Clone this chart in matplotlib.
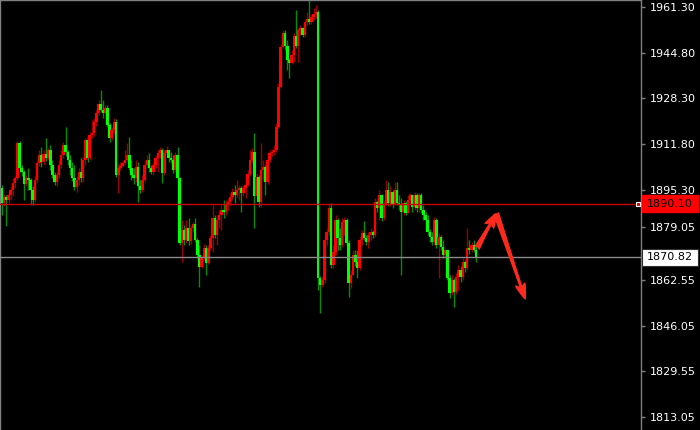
import matplotlib
matplotlib.use("Agg")
import matplotlib.pyplot as plt
import matplotlib.transforms as mtransforms
from matplotlib.patches import FancyArrowPatch, Rectangle
import numpy as np

# ---------------- data ----------------
first_open = 1895.9

closes = [
    # part 1
    1890.4, 1892.6, 1891.5, 1893.4, 1895.2, 1897.7, 1899.5, 1912.2, 1903.1, 1901.7,
    1897.4, 1899.5, 1898.8, 1895.2, 1891.5, 1898.8, 1904.9, 1907.8, 1905.3, 1908.2,
    1906.7, 1909.6, 1904.2, 1900.6, 1898.1, 1900.6, 1904.2, 1907.8, 1911.4, 1908.9,
    1906.0, 1903.1, 1899.5, 1896.3, 1898.8, 1901.7,
    # part 2
    1899.5, 1906.0, 1913.3, 1906.7, 1915.1, 1915.8, 1919.8, 1923.0, 1926.3, 1924.1,
    1923.0, 1924.8, 1918.7, 1914.0, 1916.9, 1919.8, 1900.6, 1903.1, 1903.8, 1904.9,
    1906.0, 1907.8, 1903.1, 1900.6, 1899.5, 1903.5, 1896.6, 1895.2, 1898.8, 1904.2,
    1906.0, 1903.1, 1901.7, 1904.2, 1906.7, 1908.6,
    # part 3
    1909.6, 1901.3, 1908.6, 1909.6, 1906.7, 1906.0, 1902.4, 1907.8, 1899.5, 1876.0,
    1880.7, 1877.1, 1881.4, 1876.7, 1881.4, 1882.9, 1877.1, 1871.6, 1867.3, 1870.5,
    1874.2, 1868.7, 1874.2, 1877.8, 1885.0, 1878.9, 1884.3, 1886.1, 1887.9, 1887.2,
    1889.7, 1890.8, 1892.6, 1894.4, 1893.4, 1895.2,
    # part 4
    1895.9, 1894.1, 1895.9, 1897.0, 1901.0, 1906.0, 1908.9, 1893.0, 1899.9, 1890.8,
    1902.4, 1903.5, 1898.1, 1906.0, 1908.6, 1908.9, 1909.6, 1918.0, 1932.4, 1946.9,
    1952.0, 1947.3, 1942.2, 1941.1, 1944.0, 1950.9, 1947.3, 1953.1, 1953.8, 1951.3,
    1956.0, 1957.1, 1956.0, 1957.8, 1958.9, 1959.6,
    # the big drop
    1863.3,
    # part 5
    1860.8, 1862.6, 1877.1, 1880.0, 1888.6, 1868.0, 1872.7, 1884.3, 1877.8, 1875.2,
    1883.6, 1884.3, 1876.0, 1861.5, 1864.4, 1871.6, 1869.1, 1866.9, 1877.1, 1879.6,
    1877.8, 1876.3, 1878.9, 1880.0, 1878.9, 1890.8, 1888.6, 1893.4, 1885.0, 1889.7,
    1895.2, 1890.4, 1894.4, 1889.7, 1895.2, 1890.4,
    # part 6
    1889.7, 1887.2, 1890.4, 1886.8, 1891.5, 1893.4, 1889.0, 1893.4, 1888.6, 1893.4,
    1887.9, 1886.1, 1884.3, 1880.0, 1878.1, 1876.3, 1884.3, 1875.2, 1878.1, 1874.5,
    1871.6, 1873.4, 1863.3, 1857.9, 1862.6, 1858.2, 1863.7, 1866.2, 1863.7, 1869.1,
    1866.9, 1874.2, 1873.4, 1875.2, 1873.4, 1870.5,
]

highs = [
    1897.0, 1893.7, 1893.4, 1894.4, 1896.6, 1899.5, 1900.6, 1912.9, 1912.9, 1904.2,
    1902.4, 1900.6, 1903.1, 1899.5, 1896.6, 1900.6, 1906.0, 1909.6, 1910.7, 1909.6,
    1914.0, 1910.4, 1911.4, 1906.0, 1901.7, 1901.7, 1906.0, 1909.6, 1912.5, 1918.0,
    1909.6, 1907.8, 1905.3, 1904.2, 1900.2, 1903.1,
    1906.7, 1907.5, 1914.0, 1914.7, 1916.2, 1920.5, 1921.2, 1924.1, 1927.7, 1931.4,
    1927.7, 1925.9, 1925.9, 1919.5, 1918.0, 1921.2, 1921.0, 1904.6, 1905.3, 1906.0,
    1909.6, 1912.2, 1914.4, 1906.0, 1903.1, 1906.0, 1905.3, 1898.8, 1900.6, 1906.0,
    1907.8, 1908.6, 1904.2, 1905.3, 1907.8, 1909.6,
    1910.7, 1910.4, 1909.6, 1911.1, 1909.6, 1908.9, 1907.8, 1908.9, 1910.7, 1899.9,
    1884.3, 1882.5, 1884.3, 1885.0, 1882.5, 1883.6, 1885.0, 1877.8, 1875.2, 1871.6,
    1875.6, 1875.2, 1875.2, 1878.9, 1889.7, 1886.1, 1886.1, 1887.9, 1889.7, 1891.5,
    1891.5, 1892.3, 1894.1, 1895.9, 1897.0, 1898.8,
    1897.0, 1896.6, 1897.0, 1898.1, 1902.4, 1909.6, 1910.4, 1915.8, 1901.3, 1900.6,
    1912.2, 1906.0, 1904.2, 1907.8, 1909.6, 1910.0, 1911.4, 1919.4, 1933.9, 1948.0,
    1953.1, 1953.0, 1949.5, 1942.9, 1945.8, 1952.0, 1960.3, 1953.8, 1954.9, 1954.2,
    1956.7, 1959.6, 1963.9, 1958.9, 1961.0, 1962.1,
    1960.3,
    1864.0, 1863.7, 1878.1, 1881.4, 1890.4, 1890.4, 1875.2, 1886.1, 1885.0, 1881.4,
    1885.0, 1885.4, 1885.0, 1877.1, 1866.2, 1873.4, 1873.4, 1873.4, 1878.1, 1880.7,
    1883.9, 1878.9, 1880.0, 1881.4, 1880.7, 1892.3, 1891.5, 1895.2, 1893.7, 1891.5,
    1898.8, 1898.1, 1896.6, 1895.2, 1898.1, 1898.1,
    1893.4, 1892.3, 1891.5, 1891.0, 1893.4, 1894.1, 1893.4, 1894.4, 1894.0, 1894.1,
    1894.0, 1889.7, 1887.2, 1886.1, 1881.0, 1880.0, 1885.4, 1885.0, 1879.6, 1878.9,
    1877.1, 1874.2, 1873.4, 1864.4, 1864.4, 1863.3, 1865.1, 1868.0, 1867.6, 1870.5,
    1869.8, 1881.4, 1877.1, 1876.3, 1877.1, 1875.2,
]

lows = [
    1886.1, 1889.4, 1882.1, 1890.4, 1891.5, 1893.0, 1895.9, 1898.8, 1901.7, 1900.2,
    1891.5, 1896.6, 1895.2, 1889.7, 1889.7, 1890.8, 1898.1, 1903.8, 1903.5, 1904.2,
    1905.7, 1906.0, 1902.4, 1899.5, 1897.0, 1896.6, 1899.5, 1903.1, 1906.7, 1907.5,
    1904.2, 1900.6, 1898.4, 1895.2, 1894.4, 1897.0,
    1898.1, 1898.1, 1904.2, 1905.3, 1906.0, 1914.0, 1914.7, 1918.3, 1922.3, 1923.4,
    1921.2, 1922.3, 1918.0, 1912.5, 1913.3, 1915.8, 1899.9, 1894.1, 1902.4, 1903.5,
    1904.2, 1905.3, 1902.4, 1898.8, 1897.4, 1898.1, 1890.8, 1894.1, 1894.4, 1898.1,
    1903.1, 1901.7, 1901.0, 1900.6, 1903.1, 1901.7,
    1906.7, 1897.7, 1900.6, 1907.8, 1905.3, 1904.9, 1901.3, 1901.7, 1898.8, 1875.2,
    1869.1, 1875.2, 1876.0, 1875.2, 1875.6, 1880.0, 1876.3, 1870.5, 1860.1, 1866.9,
    1869.8, 1864.4, 1868.4, 1873.4, 1872.7, 1877.8, 1875.2, 1881.4, 1880.7, 1885.0,
    1886.1, 1887.9, 1889.7, 1891.5, 1890.4, 1892.6,
    1891.5, 1887.2, 1893.0, 1892.3, 1896.6, 1900.2, 1905.3, 1881.4, 1893.0, 1889.0,
    1889.0, 1898.8, 1893.4, 1897.4, 1905.3, 1907.5, 1907.8, 1908.9, 1917.6, 1932.1,
    1946.6, 1945.8, 1938.6, 1935.7, 1940.8, 1941.5, 1946.6, 1941.5, 1951.3, 1950.6,
    1950.6, 1954.9, 1955.3, 1955.3, 1956.7, 1957.4,
    1859.0,
    1850.6, 1860.1, 1861.5, 1875.2, 1878.9, 1866.9, 1866.9, 1871.6, 1873.4, 1873.4,
    1874.5, 1878.9, 1874.9, 1856.4, 1859.7, 1864.4, 1867.6, 1863.3, 1866.2, 1875.2,
    1877.1, 1875.2, 1874.2, 1877.1, 1877.8, 1878.1, 1887.2, 1884.3, 1883.9, 1884.3,
    1889.7, 1889.4, 1889.4, 1888.6, 1889.7, 1889.7,
    1887.9, 1864.4, 1886.1, 1886.1, 1886.8, 1890.4, 1887.2, 1887.9, 1887.2, 1887.2,
    1886.8, 1884.3, 1883.6, 1878.9, 1876.3, 1875.2, 1875.2, 1874.2, 1863.3, 1873.4,
    1870.5, 1870.9, 1862.6, 1856.1, 1857.1, 1852.8, 1857.5, 1859.0, 1861.9, 1862.6,
    1865.5, 1866.2, 1872.0, 1872.7, 1872.7, 1869.1,
]

opens = [first_open] + closes[:-1]

tick_values = [1961.30, 1944.80, 1928.30, 1911.80, 1895.30, 1881.90,
               1862.55, 1846.05, 1829.55, 1813.05]
tick_labels = ["1961.30", "1944.80", "1928.30", "1911.80", "1895.30", "1879.05",
               "1862.55", "1846.05", "1829.55", "1813.05"]

level_red = 1890.10     # red horizontal level
level_bid = 1870.82     # current price line
arrow_path = [(216.5, 1874.2), (225.2, 1886.6), (238.4, 1855.7)]

# ---------------- styling ----------------
UP_BODY, UP_WICK = "#FF0000", "#9A0000"
DN_BODY, DN_WICK = "#00FF00", "#088C08"
GRID_GRAY = "#808080"

fig = plt.figure(figsize=(7.0, 4.3), dpi=100, facecolor="black")
ax = fig.add_axes([0.0, 0.0, 641 / 700, 1.0])
ax.set_facecolor("black")

o = np.array(opens)
c = np.array(closes)
h = np.array(highs)
l = np.array(lows)
x = np.arange(len(c))
up = c >= o

wick_cols = np.where(up, UP_WICK, DN_WICK)
body_cols = np.where(up, UP_BODY, DN_BODY)

ax.vlines(x, l, h, colors=wick_cols, linewidth=1.0, zorder=2)
body_h = np.maximum(np.abs(c - o), 0.35)
ax.bar(x, body_h, bottom=np.minimum(o, c), width=1.15, color=body_cols,
       linewidth=0, zorder=3)

# horizontal levels
ax.axhline(level_red, color="#C80000", linewidth=1.0, zorder=4)
ax.axhline(level_bid, color="#8A8A8A", linewidth=1.0, zorder=4)

# arrows
arrow_kw = dict(color="#FF2A1E", shrinkA=0, shrinkB=0, zorder=6,
                mutation_scale=10)
ax.add_patch(FancyArrowPatch(arrow_path[0], arrow_path[1],
                             arrowstyle="fancy,head_length=1.0,head_width=0.7,tail_width=0.35",
                             **arrow_kw))
ax.add_patch(FancyArrowPatch(arrow_path[1], arrow_path[2],
                             arrowstyle="fancy,head_length=1.1,head_width=0.7,tail_width=0.35",
                             **arrow_kw))

# axes limits
ax.set_xlim(-0.9, 291.2)
ax.set_ylim(1808.26, 1963.94)

# spines
for side in ["top", "left", "right"]:
    ax.spines[side].set_color(GRID_GRAY)
    ax.spines[side].set_linewidth(1.0)
ax.spines["bottom"].set_visible(False)

ax.set_xticks([])
ax.yaxis.tick_right()
ax.set_yticks(tick_values)
ax.set_yticklabels(tick_labels)
ax.tick_params(axis="y", colors=GRID_GRAY, labelcolor="white", labelsize=8,
               length=3, width=1, pad=3, direction="out")

# price boxes on the axis
blend = mtransforms.blended_transform_factory(ax.transAxes, ax.transData)
px = 1.0 / 641
box_h = 17 * (1963.94 - 1808.26) / 430

ax.add_patch(Rectangle((1 + 1 * px, level_red - box_h / 2), 56 * px, box_h,
                       transform=blend, facecolor="#FF0000", edgecolor="#FF0000",
                       clip_on=False, zorder=5))
ax.text(1 + 6 * px, level_red, "%.2f" % level_red, transform=blend, color="black",
        fontsize=8, ha="left", va="center", clip_on=False, zorder=6)

ax.add_patch(Rectangle((1 + 1 * px, level_bid - box_h / 2), 56 * px, box_h,
                       transform=blend, facecolor="white", edgecolor="#303030",
                       linewidth=0.8, clip_on=False, zorder=5))
ax.text(1 + 6 * px, level_bid, "%.2f" % level_bid, transform=blend, color="black",
        fontsize=8, ha="left", va="center", clip_on=False, zorder=6)

# small handle on the red level near the scale
ax.plot([1 - 3 * px], [level_red], marker="s", markersize=3, markerfacecolor="#C80000",
        markeredgecolor="white", markeredgewidth=0.8, transform=blend,
        clip_on=False, zorder=7)

fig.savefig("out.png", dpi=100, facecolor="black")
